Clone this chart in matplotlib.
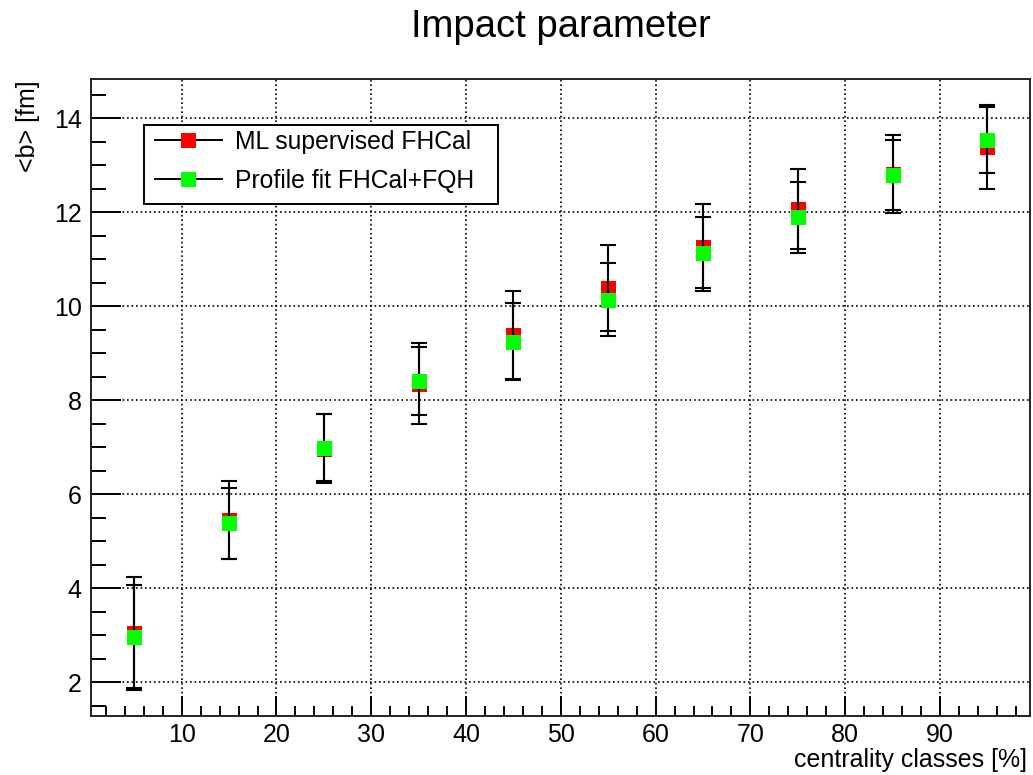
import matplotlib
matplotlib.use('Agg')
import matplotlib.pyplot as plt
from matplotlib.lines import Line2D
from matplotlib.patches import Rectangle
from matplotlib.ticker import MultipleLocator

# ---- data ----
centrality = [5, 15, 25, 35, 45, 55, 65, 75, 85, 95]
b_ml = [3.05, 5.45, 6.97, 8.35, 9.39, 10.39, 11.25, 12.07, 12.81, 13.39]
b_ml_err = [1.18, 0.83, 0.73, 0.86, 0.93, 0.92, 0.93, 0.86, 0.83, 0.90]
b_fit = [2.95, 5.38, 6.99, 8.41, 9.24, 10.14, 11.14, 11.89, 12.79, 13.53]
b_fit_err = [1.12, 0.75, 0.71, 0.72, 0.82, 0.77, 0.75, 0.75, 0.75, 0.70]
series_labels = ["ML supervised FHCal", "Profile fit FHCal+FQH"]
series_colors = ["#ff0000", "#00ff00"]
title = "Impact parameter"
xlabel = "centrality classes [%]"
ylabel = "<b> [fm]"

plt.rcParams['font.family'] = ['Liberation Sans', 'DejaVu Sans']

W, H = 1033, 775
fig = plt.figure(figsize=(W / 100, H / 100), dpi=100)
fig.patch.set_facecolor('white')

L, R, T, B = 90.7, 1030.5, 79.0, 716.3
ax = fig.add_axes([L / W, 1 - B / H, (R - L) / W, (B - T) / H])
ax.set_xlim(0.4, 99.55)
ax.set_ylim(1.272, 14.836)

# grid
ax.xaxis.set_major_locator(MultipleLocator(10))
ax.xaxis.set_minor_locator(MultipleLocator(2))
ax.yaxis.set_major_locator(MultipleLocator(2))
ax.yaxis.set_minor_locator(MultipleLocator(0.5))
ax.grid(True, which='major', color='black', linestyle=(0, (1.0, 1.7)), linewidth=1.2, zorder=1)
ax.set_axisbelow(True)

# ticks
lw = 1.4
ax.tick_params(which='both', direction='in', top=False, right=False, width=lw, color='black',
               labelsize=18)
ax.tick_params(axis='x', which='major', length=14.4, pad=4.5)
ax.tick_params(axis='x', which='minor', length=7.2)
ax.tick_params(axis='y', which='major', length=21.6, pad=6.5)
ax.tick_params(axis='y', which='minor', length=10.8)
for s in ax.spines.values():
    s.set_linewidth(lw)
    s.set_color('#222222')

# data
ms = 10.8
ax.errorbar(centrality, b_ml, yerr=b_ml_err, fmt='none', ecolor='black', elinewidth=1.5,
            capsize=5.8, capthick=1.5, zorder=3)
ax.plot(centrality, b_ml, linestyle='none', marker='s', ms=ms, mfc=series_colors[0],
        mec=series_colors[0], mew=0, zorder=3.5)
ax.errorbar(centrality, b_fit, yerr=b_fit_err, fmt='none', ecolor='black', elinewidth=1.5,
            capsize=5.8, capthick=1.5, zorder=4)
ax.plot(centrality, b_fit, linestyle='none', marker='s', ms=ms, mfc=series_colors[1],
        mec=series_colors[1], mew=0, zorder=4.5)

# legend box (drawn in figure pixels)
lx0, ly0, lx1, ly1 = 144, 125, 498, 204
box = Rectangle((lx0 / W, 1 - ly1 / H), (lx1 - lx0) / W, (ly1 - ly0) / H,
                transform=fig.transFigure, facecolor='white', edgecolor='black',
                linewidth=lw, zorder=10)
fig.add_artist(box)
handles = [Line2D([], [], color='black', linewidth=1.4, marker='s', ms=ms,
                  mfc=c, mec=c, mew=0) for c in series_colors]
leg = fig.legend(handles, series_labels, loc='upper left',
                 bbox_to_anchor=(155 / W, 1 - 130 / H), bbox_transform=fig.transFigure,
                 frameon=False, fontsize=17.8, handlelength=2.7, handletextpad=0.55,
                 labelspacing=0.6, borderpad=0, borderaxespad=0, numpoints=1)
leg.set_zorder(11)

# texts
fig.text((L + R) / 2 / W, 1 - 36.7 / H, title, ha='center', va='baseline', fontsize=27.5)
fig.text(1027 / W, 1 - 767 / H, xlabel, ha='right', va='baseline', fontsize=18)
fig.text(28 / W, 1 - 80 / H, ylabel, ha='center', va='top', rotation=90, fontsize=18)

fig.savefig('out.png', dpi=100)
